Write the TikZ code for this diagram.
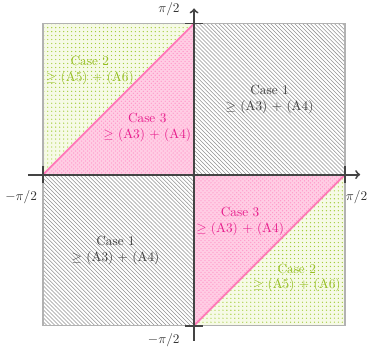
\documentclass[tikz,border=0pt]{standalone}
\usetikzlibrary{patterns}
\definecolor{patpink}{RGB}{255,150,200}
\definecolor{basepink}{RGB}{255,205,228}
\definecolor{linepink}{RGB}{255,120,185}
\definecolor{txtpink}{RGB}{230,30,140}
\definecolor{patgreen}{RGB}{165,205,60}
\definecolor{basegreen}{RGB}{246,250,230}
\definecolor{txtgreen}{RGB}{150,190,35}
\definecolor{axisgray}{RGB}{68,68,68}
\tikzset{
  hatchzone/.style={pattern=north west lines, pattern color=gray!85},
  dotzone/.style={pattern=dots, pattern color=patgreen},
  pinkzone/.style={pattern=crosshatch dots, pattern color=patpink},
  axisline/.style={->, line width=1.4pt, draw=axisgray},
  tickline/.style={line width=1.4pt, draw=axisgray},
  caseone/.style={align=center, text=black!75},
  casetwo/.style={align=center, text=txtgreen},
  casethree/.style={align=center, text=txtpink},
  ticklabel/.style={inner sep=1pt, text=black!80}
}
\begin{document}
\begin{tikzpicture}[x=4cm,y=4cm]
\useasboundingbox (-1.285,-1.162) rectangle (1.238,1.156);
% regions
\fill[hatchzone] (0,0) rectangle (1,1);
\fill[hatchzone] (-1,-1) rectangle (0,0);
\fill[basegreen] (-1,0) -- (-1,1) -- (0,1) -- cycle;
\fill[basegreen] (0,-1) -- (1,-1) -- (1,0) -- cycle;
\fill[dotzone] (-1,0) -- (-1,1) -- (0,1) -- cycle;
\fill[dotzone] (0,-1) -- (1,-1) -- (1,0) -- cycle;
\fill[basepink] (-1,0) -- (0,1) -- (0,0) -- cycle;
\fill[basepink] (0,0) -- (1,0) -- (0,-1) -- cycle;
\fill[pinkzone] (-1,0) -- (0,1) -- (0,0) -- cycle;
\fill[pinkzone] (0,0) -- (1,0) -- (0,-1) -- cycle;
% square border
\draw[gray!60, line width=1pt] (-1,-1) rectangle (1,1);
% diagonals
\coordinate (L) at (-1,0);
\coordinate (T) at (0,1);
\coordinate (B) at (0,-1);
\coordinate (R) at (1,0);
\draw[linepink, line width=1.4pt] (L) -- (T);
\draw[linepink, line width=1.4pt] (B) -- (R);
% axes
\coordinate (xs) at (-1.1,0);
\coordinate (xe) at (1.1,0);
\coordinate (ys) at (0,-1.1);
\coordinate (ye) at (0,1.1);
\draw[axisline] (xs) -- (xe);
\draw[axisline] (ys) -- (ye);
% ticks
\coordinate (tl1) at (-1,0.058); \coordinate (tl2) at (-1,-0.058);
\coordinate (tr1) at (1,0.058); \coordinate (tr2) at (1,-0.058);
\coordinate (tt1) at (-0.058,1); \coordinate (tt2) at (0.058,1);
\coordinate (tb1) at (-0.058,-1); \coordinate (tb2) at (0.058,-1);
\draw[tickline] (tl1) -- (tl2);
\draw[tickline] (tr1) -- (tr2);
\draw[tickline] (tt1) -- (tt2);
\draw[tickline] (tb1) -- (tb2);
% tick labels
\node[ticklabel, anchor=north east] (lxm) at (-1.03,-0.095) {$-\pi/2$};
\node[ticklabel, anchor=north west] (lxp) at (0.995,-0.095) {$\pi/2$};
\node[ticklabel, anchor=south east] (lyp) at (-0.085,1.04) {$\pi/2$};
\node[ticklabel, anchor=north east] (lym) at (-0.085,-1.04) {$-\pi/2$};
% case labels
\node[caseone] (c1a) at (0.5,0.5) {Case 1\\$\geq$ (A3) $+$ (A4)};
\node[caseone] (c1b) at (-0.52,-0.5) {Case 1\\$\geq$ (A3) $+$ (A4)};
\node[casetwo] (c2a) at (-0.69,0.69) {Case 2\\$\geq$ (A5) $+$ (A6)};
\node[casetwo] (c2b) at (0.68,-0.685) {Case 2\\$\geq$ (A5) $+$ (A6)};
\node[casethree] (c3a) at (-0.31,0.31) {Case 3\\$\geq$ (A3) $+$ (A4)};
\node[casethree] (c3b) at (0.305,-0.31) {Case 3\\$\geq$ (A3) $+$ (A4)};
\end{tikzpicture}
\end{document}
